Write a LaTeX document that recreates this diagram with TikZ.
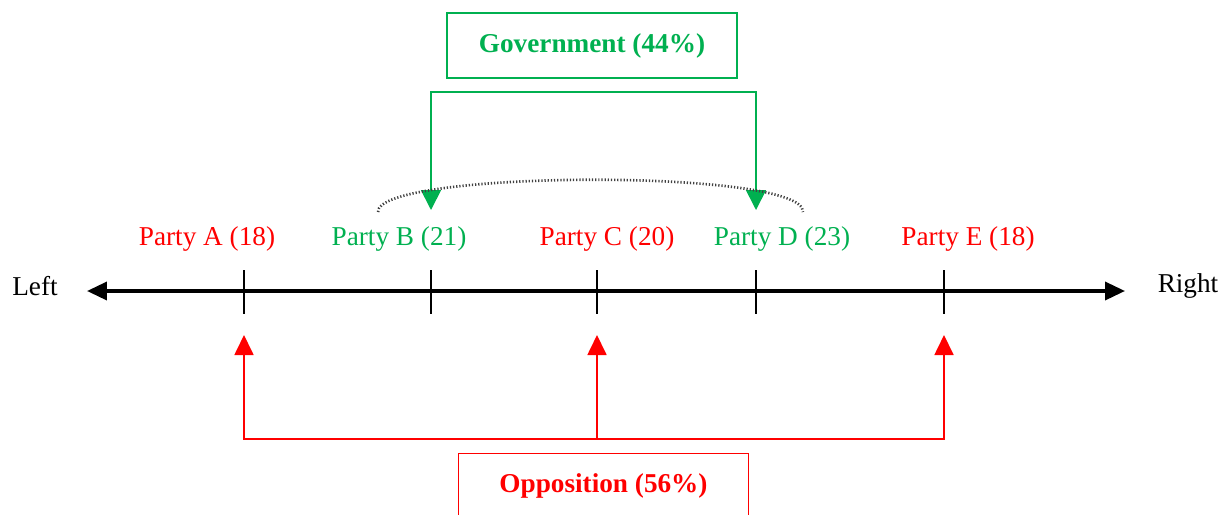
\documentclass[tikz,border=0pt]{standalone}
\usepackage{fontspec}
\setmainfont{Liberation Serif}
\usetikzlibrary{positioning,arrows.meta}
\definecolor{govgreen}{RGB}{0,176,80}
\definecolor{oppred}{RGB}{255,0,0}

\begin{document}
\begin{tikzpicture}[x=0.02cm,y=-0.02cm,font=\fontsize{15.5}{18}\selectfont,
		tick/.style={line width=0.8pt},
		partylbl/.style={inner sep=0pt,anchor=base},
		blockbox/.style={draw,line width=0.8pt,minimum width=5.8cm,minimum height=1.3cm,font=\fontsize{15.5}{18}\selectfont\bfseries},
		govline/.style={govgreen,line width=1pt,-{Triangle[length=0.4cm,width=0.4cm]}},
		oppline/.style={oppred,line width=1pt,-{Triangle[length=0.4cm,width=0.38cm]}}]
		\useasboundingbox (0,0) rectangle (1229,514);
		% axis
		\coordinate (axL) at (87,291);
		\coordinate (axR) at (1125,291);
		\draw[line width=2pt,{Triangle[length=0.4cm,width=0.36cm]}-{Triangle[length=0.4cm,width=0.36cm]}] (axL) -- (axR);
		\node (left) at (35,286) {Left};
		\node (right) at (1188,286) {Right};
		\foreach \n/\x in {A/244,B/431,C/597,D/756,E/944}
			\draw[tick] (\x,270) coordinate (t\n) -- (\x,314);
		% parties
		\node[partylbl,oppred] (pA) at (207,245) {Party A (18)};
		\node[partylbl,govgreen] (pB) at (399,245) {Party B (21)};
		\node[partylbl,oppred] (pC) at (607,245) {Party C (20)};
		\node[partylbl,govgreen] (pD) at (782,245) {Party D (23)};
		\node[partylbl,oppred] (pE) at (968,245) {Party E (18)};
		% government
		\node[blockbox,govgreen] (gov) at (592,45.5) {Government (44\%)};
		\coordinate (gTop) at (592,92);
		\coordinate (bTip) at (431,210);
		\coordinate (dTip) at (756,210);
		\draw[govline] (gTop) -| (bTip);
		\draw[govline] (gTop) -| (dTip);
		\coordinate (arcL) at (378,212);
		\coordinate (arcR) at (803,212);
		\draw[line width=1.5pt,dash pattern=on 0.7pt off 1.1pt,black!75] (arcL) .. controls (376,170) and (805,168) .. (arcR);
		% opposition
		\node[blockbox,oppred] (opp) at (603.5,486) {Opposition (56\%)};
		\coordinate (oMid) at (597,439);
		\coordinate (aTip) at (244,335);
		\coordinate (cTip) at (597,335);
		\coordinate (eTip) at (944,335);
		\draw[oppline] (oMid) -| (aTip);
		\draw[oppline] (oMid) -- (cTip);
		\draw[oppline] (oMid) -| (eTip);
	\end{tikzpicture}
\end{document}
